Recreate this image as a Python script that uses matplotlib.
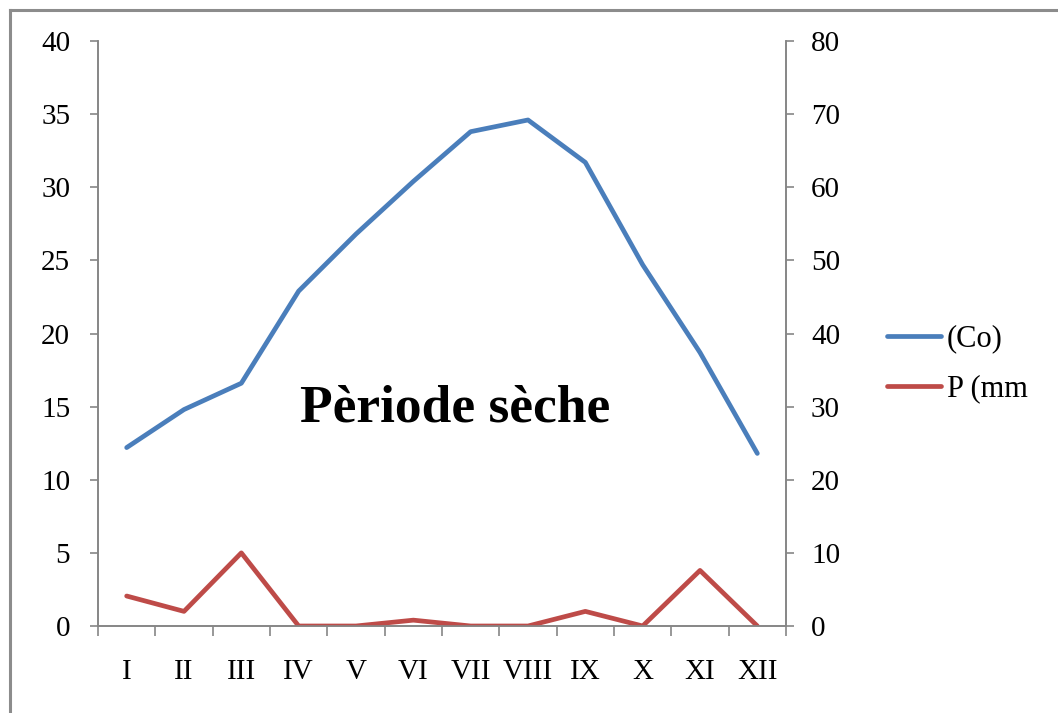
import numpy as np
import matplotlib.pyplot as plt
from matplotlib.lines import Line2D

# data
months = ['I', 'II', 'III', 'IV', 'V', 'VI', 'VII', 'VIII', 'IX', 'X', 'XI', 'XII']
temp = [12.2, 14.8, 16.6, 22.9, 26.8, 30.4, 33.8, 34.6, 31.7, 24.7, 18.7, 11.8]
precip = [4.1, 2.0, 10.0, 0.0, 0.0, 0.8, 0.0, 0.0, 2.0, 0.0, 7.6, 0.0]

plt.rcParams['font.family'] = ['Liberation Serif', 'DejaVu Serif']
grey = '#868686'
blue = '#4A7EBB'
red = '#BE4B48'

fig = plt.figure(figsize=(10.58, 7.13), dpi=100)
ax = fig.add_axes([98/1058, 87/713, 688/1058, 585/713])
ax2 = ax.twinx()

x = np.arange(len(months))
l1, = ax.plot(x, temp, color=blue, lw=3.4, solid_capstyle='round', label='(Co)')
l2, = ax2.plot(x, precip, color=red, lw=3.4, solid_capstyle='round', label='P (mm')

ax.set_xlim(-0.5, 11.5)
ax.set_ylim(0, 40)
ax2.set_ylim(0, 80)
ax.set_yticks(np.arange(0, 41, 5))
ax2.set_yticks(np.arange(0, 81, 10))

ax.set_xticks(x)
ax.set_xticklabels(months)
ax.set_xticks(np.arange(-0.5, 12, 1), minor=True)
ax.tick_params(axis='x', which='major', length=0, pad=24, labelsize=21)
ax.tick_params(axis='x', which='minor', length=7, width=1.2, color=grey)
ax.tick_params(axis='y', length=6, width=1.2, color=grey, pad=14, labelsize=21)
ax2.tick_params(axis='y', length=6, width=1.2, color=grey, pad=12, labelsize=21)

for a in (ax, ax2):
    a.spines['top'].set_visible(False)
    for s in ('left', 'right', 'bottom'):
        a.spines[s].set_color(grey)
        a.spines[s].set_linewidth(1.2)

ax.text(5.73, 14.9, 'Pèriode sèche', fontsize=38.5, fontweight='bold',
        ha='center', va='center')

fig.legend(handles=[l1, l2], loc='center left', bbox_to_anchor=(875/1058, 1 - 364/713),
           frameon=False, fontsize=22, handlelength=1.75, handletextpad=0.2,
           labelspacing=0.7, borderaxespad=0)

# outer frame (only top and left edges visible)
fig.add_artist(Line2D([10/1058, 10/1058], [0, 1 - 10/713], transform=fig.transFigure,
                      color='#8c8c8c', lw=2.2))
fig.add_artist(Line2D([10/1058, 1], [1 - 10/713, 1 - 10/713], transform=fig.transFigure,
                      color='#8c8c8c', lw=2.2))

fig.savefig('out.png', dpi=100)
